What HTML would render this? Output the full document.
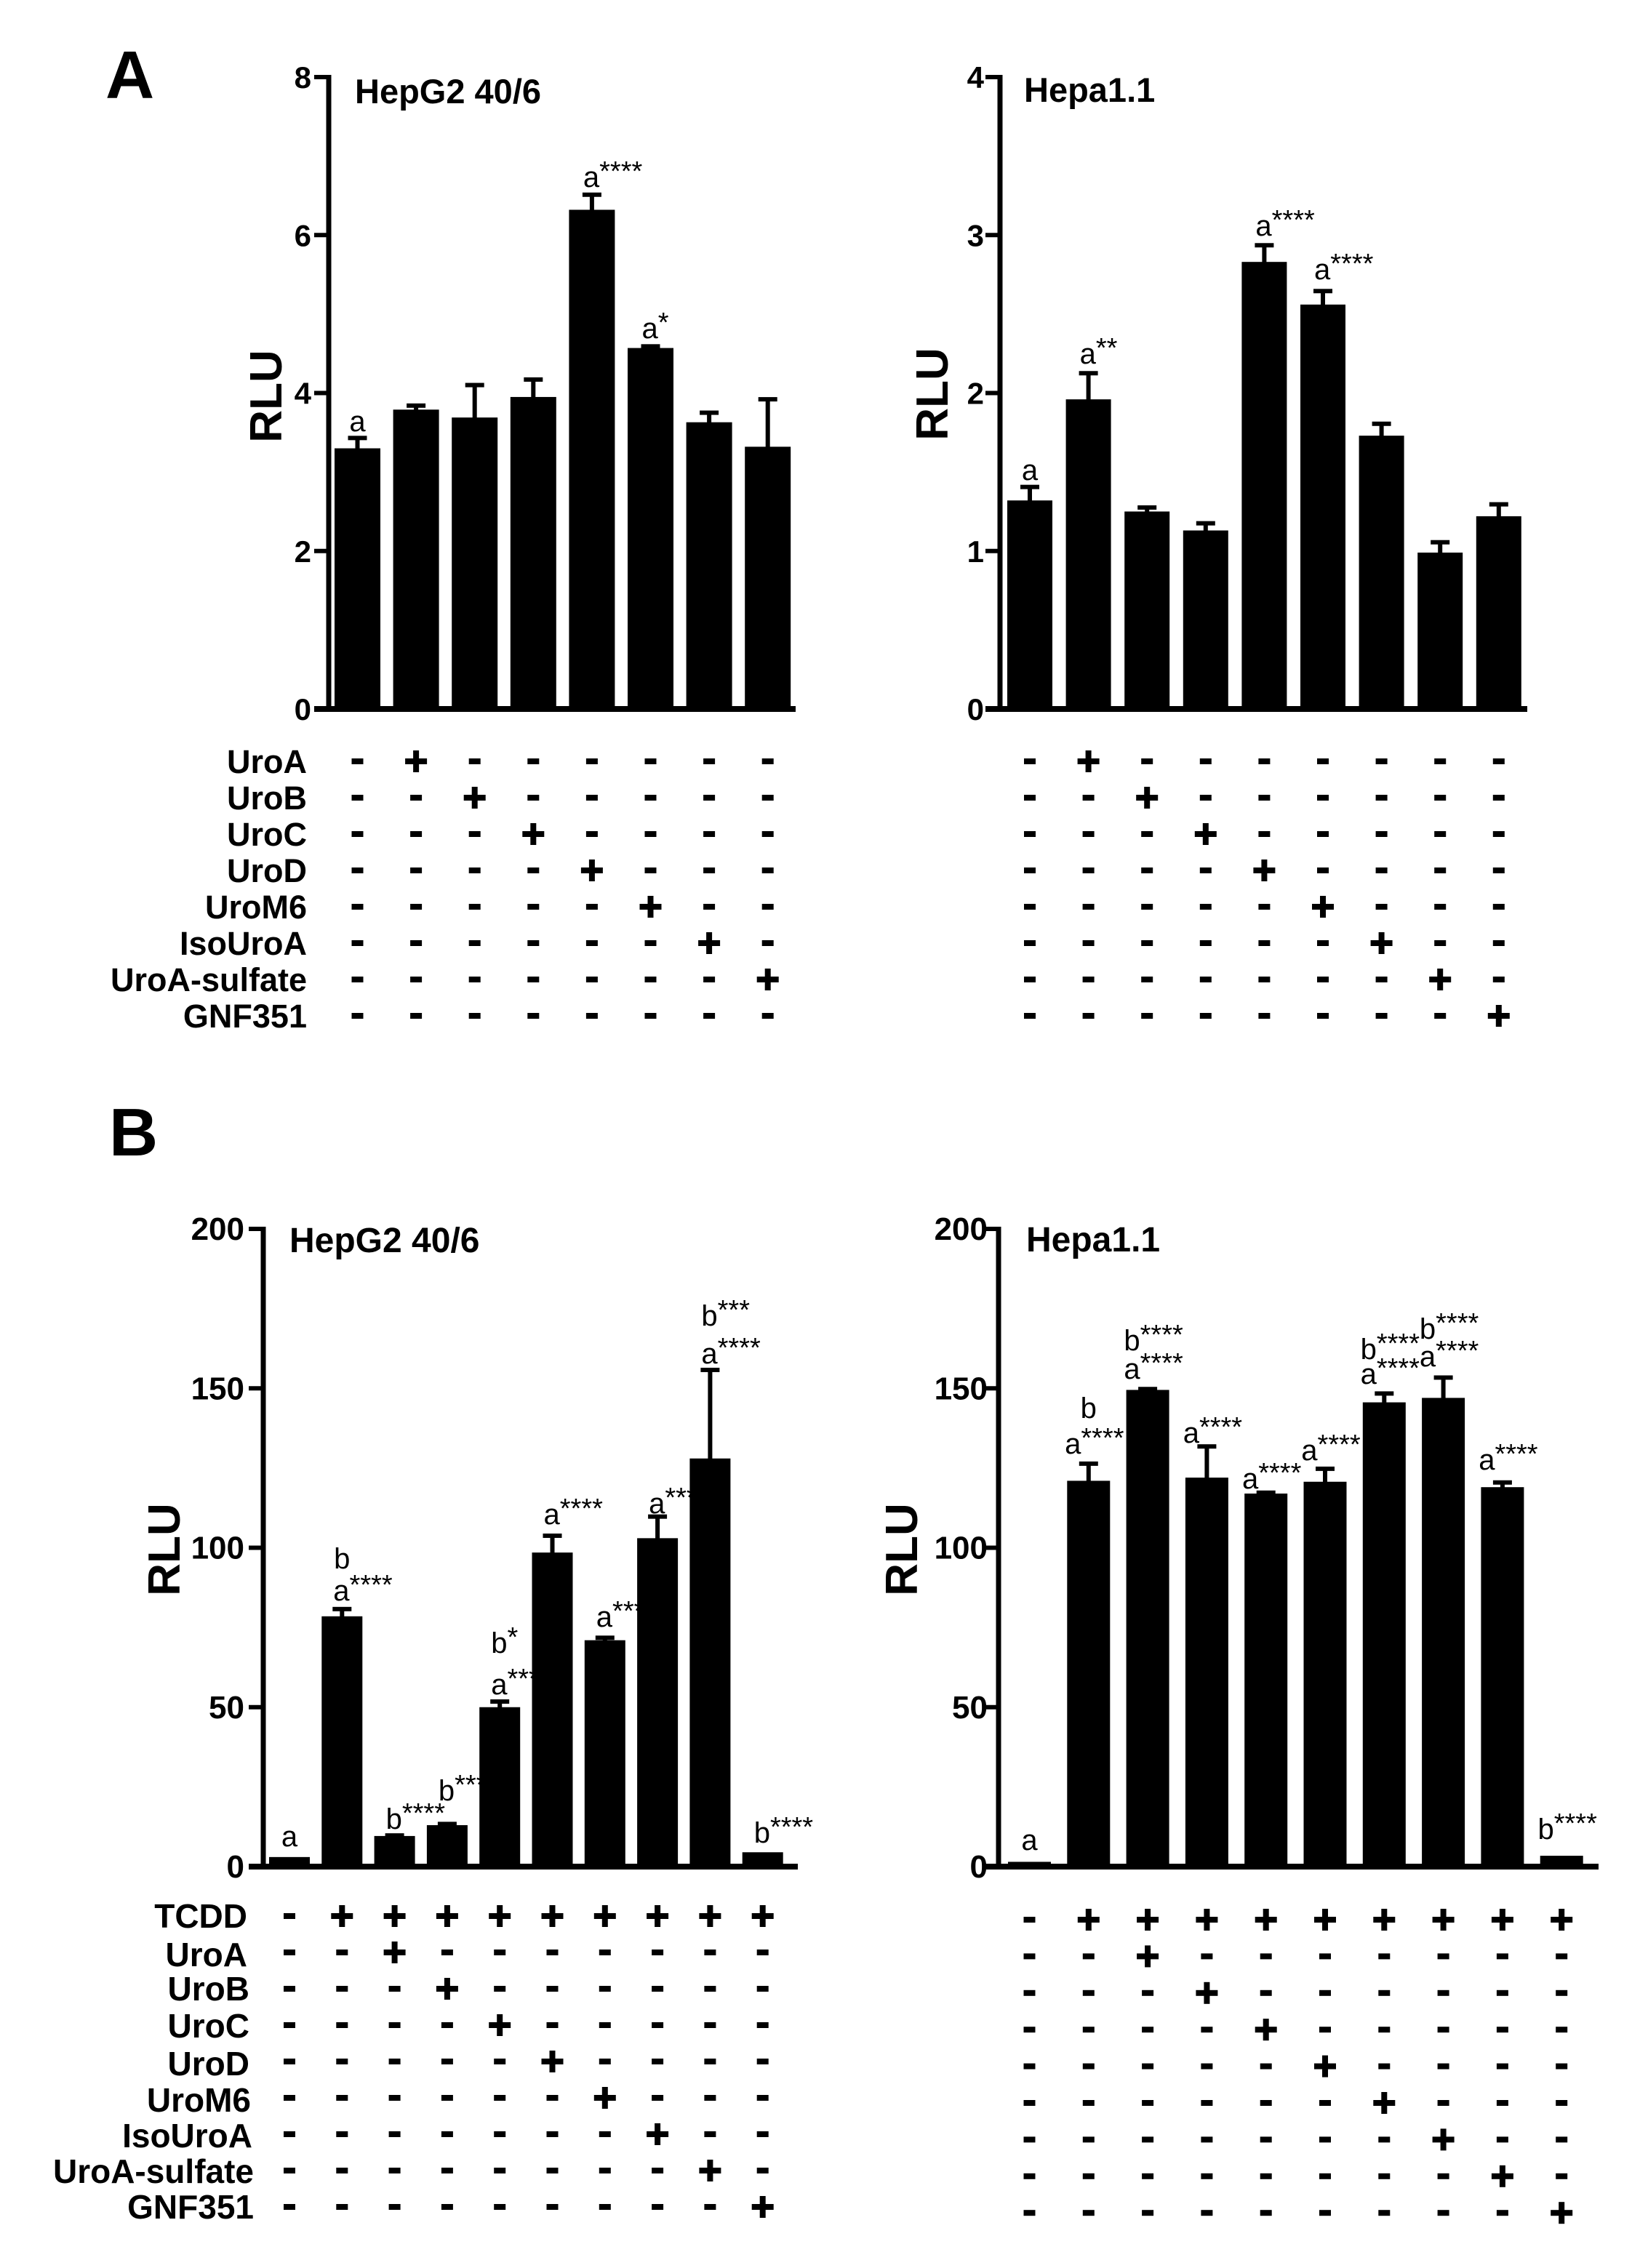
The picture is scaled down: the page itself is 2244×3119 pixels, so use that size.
<!DOCTYPE html>
<html><head><meta charset="utf-8">
<style>
html,body{margin:0;padding:0;background:#fff;}
svg{display:block;}
text{font-family:"Liberation Sans",Arial,sans-serif;fill:#000;}
</style></head>
<body>
<svg id="s" width="2244" height="3119" viewBox="0 0 2244 3119" xmlns="http://www.w3.org/2000/svg">
<rect width="2244" height="3119" fill="#fff"/>
<text x="145" y="135" font-size="93" font-weight="bold">A</text>
<text x="150" y="1589" font-size="93" font-weight="bold">B</text>
<text x="488" y="142" font-size="47" font-weight="bold">HepG2 40/6</text>
<text x="1408" y="140" font-size="47" font-weight="bold">Hepa1.1</text>
<text x="398" y="1722" font-size="48" font-weight="bold">HepG2 40/6</text>
<text x="1411" y="1721" font-size="48" font-weight="bold">Hepa1.1</text>
<text transform="translate(387,545) rotate(-90)" font-size="62" font-weight="bold" text-anchor="middle">RLU</text>
<text transform="translate(1303,542) rotate(-90)" font-size="62" font-weight="bold" text-anchor="middle">RLU</text>
<text transform="translate(247,2131) rotate(-90)" font-size="62" font-weight="bold" text-anchor="middle">RLU</text>
<text transform="translate(1261,2131) rotate(-90)" font-size="62" font-weight="bold" text-anchor="middle">RLU</text>
<g font-size="45" font-weight="bold" text-anchor="end">
<text x="422" y="1063">UroA</text>
<text x="422" y="1113">UroB</text>
<text x="422" y="1163">UroC</text>
<text x="422" y="1213">UroD</text>
<text x="422" y="1263">UroM6</text>
<text x="422" y="1313">IsoUroA</text>
<text x="422" y="1363">UroA-sulfate</text>
<text x="422" y="1413">GNF351</text>
</g>
<g font-size="46" font-weight="bold" text-anchor="end">
<text x="340" y="2651">TCDD</text>
<text x="340" y="2704">UroA</text>
<text x="343" y="2751">UroB</text>
<text x="343" y="2802">UroC</text>
<text x="343" y="2854">UroD</text>
<text x="345" y="2904">UroM6</text>
<text x="347" y="2953">IsoUroA</text>
<text x="349" y="3002">UroA-sulfate</text>
<text x="349" y="3051">GNF351</text>
</g>
<g id="g"></g>
</svg>
<script>
var NS="http://www.w3.org/2000/svg",G=document.getElementById("g");
function el(t,a,txt){var e=document.createElementNS(NS,t);for(var k in a)e.setAttribute(k,a[k]);if(txt!=null)e.textContent=txt;G.appendChild(e);return e;}
function rect(x,y,w,h){el("rect",{x:x,y:y,width:w,height:h,fill:"#000"});}
var P=[
{ax:452,y0:975,yt:106,max:8,ticks:[0,2,4,6,8],lr:428,bx:460,pitch:80.6,bw:63,end:1094,lw:7,fs:42,
 v:[[3.30,3.44],[3.79,3.85],[3.69,4.11],[3.95,4.18],[6.32,6.52],[4.57,4.60],[3.63,3.76],[3.32,3.93]],
 an:[[0,579,"a",""],[4,243,"a","****"],[5,451,"a","*"]],anc:false,
 rows:{y:1047,dy:50,n:8,cols:8,tcdd:false}},
{ax:1375,y0:975,yt:106,max:4,ticks:[0,1,2,3,4],lr:1353,bx:1385,pitch:80.6,bw:62,end:2100,lw:7,fs:42,
 v:[[1.32,1.41],[1.96,2.13],[1.25,1.28],[1.13,1.18],[2.83,2.94],[2.56,2.65],[1.73,1.81],[0.99,1.06],[1.22,1.30]],
 an:[[0,646,"a",""],[1,486,"a","**"],[4,310,"a","****"],[5,370,"a","****"]],anc:false,
 rows:{y:1047,dy:50,n:8,cols:9,tcdd:false}},
{ax:362,y0:2567,yt:1690,max:200,ticks:[0,50,100,150,200],lr:336,bx:370,pitch:72.3,bw:56,end:1097,lw:7,fs:44,
 v:[[3,3],[78.5,81],[9.6,10],[13,13.6],[50,52],[98.5,104],[71,72],[103,110],[128,156],[4.5,4.5]],
 an:[[0,2525,"a",""],[1,2143,"b",""],[1,2187,"a","****"],[2,2501,"b","****"],[3,2462,"b","****"],[4,2259,"b","*"],[4,2316,"a","***"],[5,2082,"a","****"],[6,2223,"a","****"],[7,2067,"a","****"],[8,1809,"b","***"],[8,1861,"a","****"],[9,2520,"b","****"]],anc:false,
 rows:{y:2635,dy:50,n:9,cols:10,tcdd:true}},
{ax:1373,y0:2567,yt:1690,max:200,ticks:[0,50,100,150,200],lr:1358,bx:1386,pitch:81.3,bw:59,end:2198,lw:7,fs:44,
 v:[[1.5,1.5],[121,126.6],[149.5,150],[122,132],[117,117.5],[120.7,125],[145.6,148.6],[147,153.6],[119,120.7],[3.4,3.4]],
 an:[[0,2530,"a",""],[1,1936,"b",""],[1,1985,"a","****"],[2,1843,"b","****"],[2,1882,"a","****"],[3,1970,"a","****"],[4,2033,"a","****"],[5,1994,"a","****"],[6,1855,"b","****"],[6,1889,"a","****"],[7,1827,"b","****"],[7,1865,"a","****"],[8,2007,"a","****"],[9,2515,"b","****"]],anc:true,
 rows:{y:2640,dy:50.4,n:9,cols:10,tcdd:true}}
];
P.forEach(function(p){
 var sc=(p.y0-p.yt)/p.max;function Y(v){return p.y0-v*sc;}
 rect(p.ax-p.lw/2,p.yt-3,p.lw,p.y0-p.yt+7);
 rect(p.ax-20,p.y0-4,p.end-p.ax+20,8);
 p.ticks.forEach(function(t){var y=Y(t);rect(p.ax-20,y-3,20,6);
  el("text",{x:p.lr,y:y+15,"font-size":p.fs,"font-weight":"bold","text-anchor":"end"},String(t));});
 p.v.forEach(function(b,i){var x=p.bx+i*p.pitch,cx=x+p.bw/2;
  var top=Y(b[0]),et=Y(b[1]);
  if(b[1]-b[0]>0.001){rect(cx-3,et,6,top-et+2);rect(cx-13,et-2,26,6);}
  rect(x,top,p.bw,p.y0-top);});
 p.an.forEach(function(a){var cx=p.bx+a[0]*p.pitch+p.bw/2;
  var t;
  if(p.anc&&a[3]){t=el("text",{x:cx+8,y:a[1]+14,"font-size":40,"text-anchor":"middle"});}
  else if(!a[3]){t=el("text",{x:cx,y:a[1]+14,"font-size":40,"text-anchor":"middle"});}
  else {t=el("text",{x:cx-12,y:a[1]+14,"font-size":40});}
  var s1=document.createElementNS(NS,"tspan");s1.textContent=a[2];t.appendChild(s1);
  if(a[3]){var s2=document.createElementNS(NS,"tspan");s2.setAttribute("font-size","38");s2.setAttribute("dy","-9");s2.textContent=a[3];t.appendChild(s2);}
 });
 var r=p.rows;
 for(var i=0;i<r.n;i++){var y=r.y+i*r.dy;
  for(var c=0;c<r.cols;c++){var cx=p.bx+c*p.pitch+p.bw/2;var plus;
   if(r.tcdd){plus=(i==0)?(c>0):(c==i+1);}else{plus=(c==i+1);}
   if(plus){rect(cx-15,y-4,30,8);rect(cx-4,y-15,8,30);}
   else{rect(cx-8,y-4,16,8);}
  }}
});
</script>
</body></html>
